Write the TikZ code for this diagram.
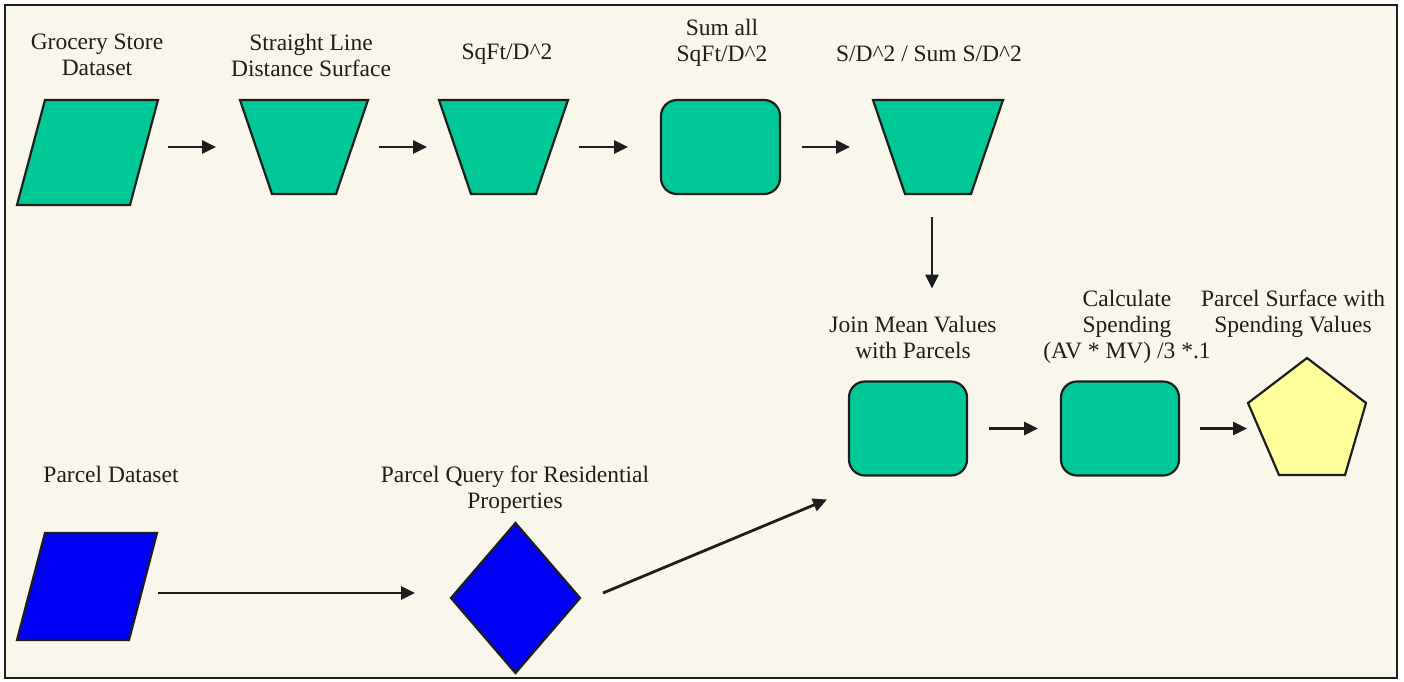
\documentclass[tikz,border=0pt]{standalone}
\usepackage{fontspec}
\setmainfont{Liberation Serif}
\usetikzlibrary{arrows.meta}
\definecolor{tealg}{RGB}{0,200,150}
\definecolor{bluep}{RGB}{0,0,245}
\definecolor{yellowp}{RGB}{255,255,155}
\definecolor{cream}{RGB}{249,246,236}
\definecolor{ink}{RGB}{30,30,30}
\tikzset{
  bb/.style={inner sep=0pt, outer sep=0pt},
  shp/.style={draw=ink, line width=2.2pt, line join=miter},
  rbox/.style={shp, fill=tealg, rounded corners=16pt, inner sep=0pt, outer sep=0pt, minimum width=118pt, minimum height=94pt},
  lbl/.style={font=\fontsize{23.5}{26}\selectfont, align=center, inner sep=0pt, text=ink},
  arr/.style={draw=ink, line width=2.8pt, -{Triangle[length=14pt,width=13pt]}},
}
\begin{document}
\begin{tikzpicture}[x=1pt,y=-1pt]
\useasboundingbox (0,0) rectangle (1404,681);
\fill[white] (0,0) rectangle (1404,681);
\draw[fill=cream, draw=ink, line width=1.6pt] (5,5) rectangle (1397,678);

% ---- top row shapes ----
\node[bb, minimum width=141pt, minimum height=105pt] (g1) at (87.5,152.5) {};
\draw[shp, fill=tealg] ([xshift=28pt]g1.north west) -- (g1.north east) -- ([xshift=-28pt]g1.south east) -- (g1.south west) -- cycle;

\node[bb, minimum width=128pt, minimum height=94pt] (t1) at (304,147) {};
\draw[shp, fill=tealg] (t1.north west) -- (t1.north east) -- ([xshift=-32pt]t1.south east) -- ([xshift=32pt]t1.south west) -- cycle;

\node[bb, minimum width=129pt, minimum height=94pt] (t2) at (503.5,147) {};
\draw[shp, fill=tealg] (t2.north west) -- (t2.north east) -- ([xshift=-32pt]t2.south east) -- ([xshift=32pt]t2.south west) -- cycle;

\node[rbox, minimum width=119pt] (r1) at (720.5,147) {};

\node[bb, minimum width=130pt, minimum height=94pt] (t3) at (938,147) {};
\draw[shp, fill=tealg] (t3.north west) -- (t3.north east) -- ([xshift=-32pt]t3.south east) -- ([xshift=32pt]t3.south west) -- cycle;

% ---- middle row ----
\node[rbox] (j1) at (908,428.5) {};
\node[rbox] (c1) at (1120,428.5) {};

\node[bb, minimum width=118pt, minimum height=117pt] (p1) at (1307,416.5) {};
\draw[shp, fill=yellowp] (p1.north) -- ([yshift=-45pt]p1.north east) -- ([xshift=-21pt]p1.south east) -- ([xshift=31pt]p1.south west) -- ([yshift=-45pt]p1.north west) -- cycle;

% ---- bottom row ----
\node[bb, minimum width=140pt, minimum height=107pt] (q1) at (87,586.5) {};
\draw[shp, fill=bluep] ([xshift=28pt]q1.north west) -- (q1.north east) -- ([xshift=-28pt]q1.south east) -- (q1.south west) -- cycle;

\node[bb, minimum width=129pt, minimum height=150pt] (d1) at (515.5,598) {};
\draw[shp, fill=bluep] (d1.north) -- (d1.east) -- (d1.south) -- (d1.west) -- cycle;

% ---- labels ----
\node[lbl] (lg1) at (97,55) {Grocery Store\\Dataset};
\node[lbl] (lt1) at (311,55) {Straight Line\\Distance Surface};
\node[lbl] (lt2) at (507,54) {SqFt/D\textasciicircum 2};
\node[lbl] (lr1) at (722,43) {Sum all\\SqFt/D\textasciicircum 2};
\node[lbl] (lt3) at (929,54) {S/D\textasciicircum 2 / Sum S/D\textasciicircum 2};
\node[lbl] (lj1) at (913,337) {Join Mean Values\\with Parcels};
\node[lbl] (lc1) at (1127,327) {Calculate\\Spending\\(AV * MV) /3 *.1};
\node[lbl] (lp1) at (1293,314) {Parcel Surface with\\Spending Values};
\node[lbl] (lq1) at (111,474) {Parcel Dataset};
\node[lbl] (ld1) at (515,490) {Parcel Query for Residential\\Properties};

% ---- connectors ----
\draw[arr, shorten <=10pt, shorten >=24pt] (g1.east |- t1.west) -- (t1.west);
\draw[arr, shorten <=11pt, shorten >=12pt] (t1.east) -- (t2.west);
\draw[arr, shorten <=11pt, shorten >=33pt] (t2.east) -- (r1.west);
\draw[arr, shorten <=22pt, shorten >=23pt] (r1.east) -- (t3.west);
\coordinate (a1) at ([xshift=-6pt]t3.south);
\draw[arr, shorten <=23pt, shorten >=93pt] (a1) -- (a1 |- j1.north);
\draw[arr, shorten <=22pt, shorten >=23pt] (j1.east) -- (c1.west);
\draw[arr, shorten <=21pt, shorten >=1pt] (c1.east) -- (c1.east -| p1.west);
\coordinate (a2) at ([yshift=5pt]d1.west);
\draw[arr, shorten <=1pt, shorten >=36pt] (q1.east |- a2) -- (a2);
\draw[arr] ([xshift=23pt,yshift=5pt]d1.east) -- ([xshift=-22pt,yshift=-24pt]j1.south west);
\end{tikzpicture}
\end{document}
